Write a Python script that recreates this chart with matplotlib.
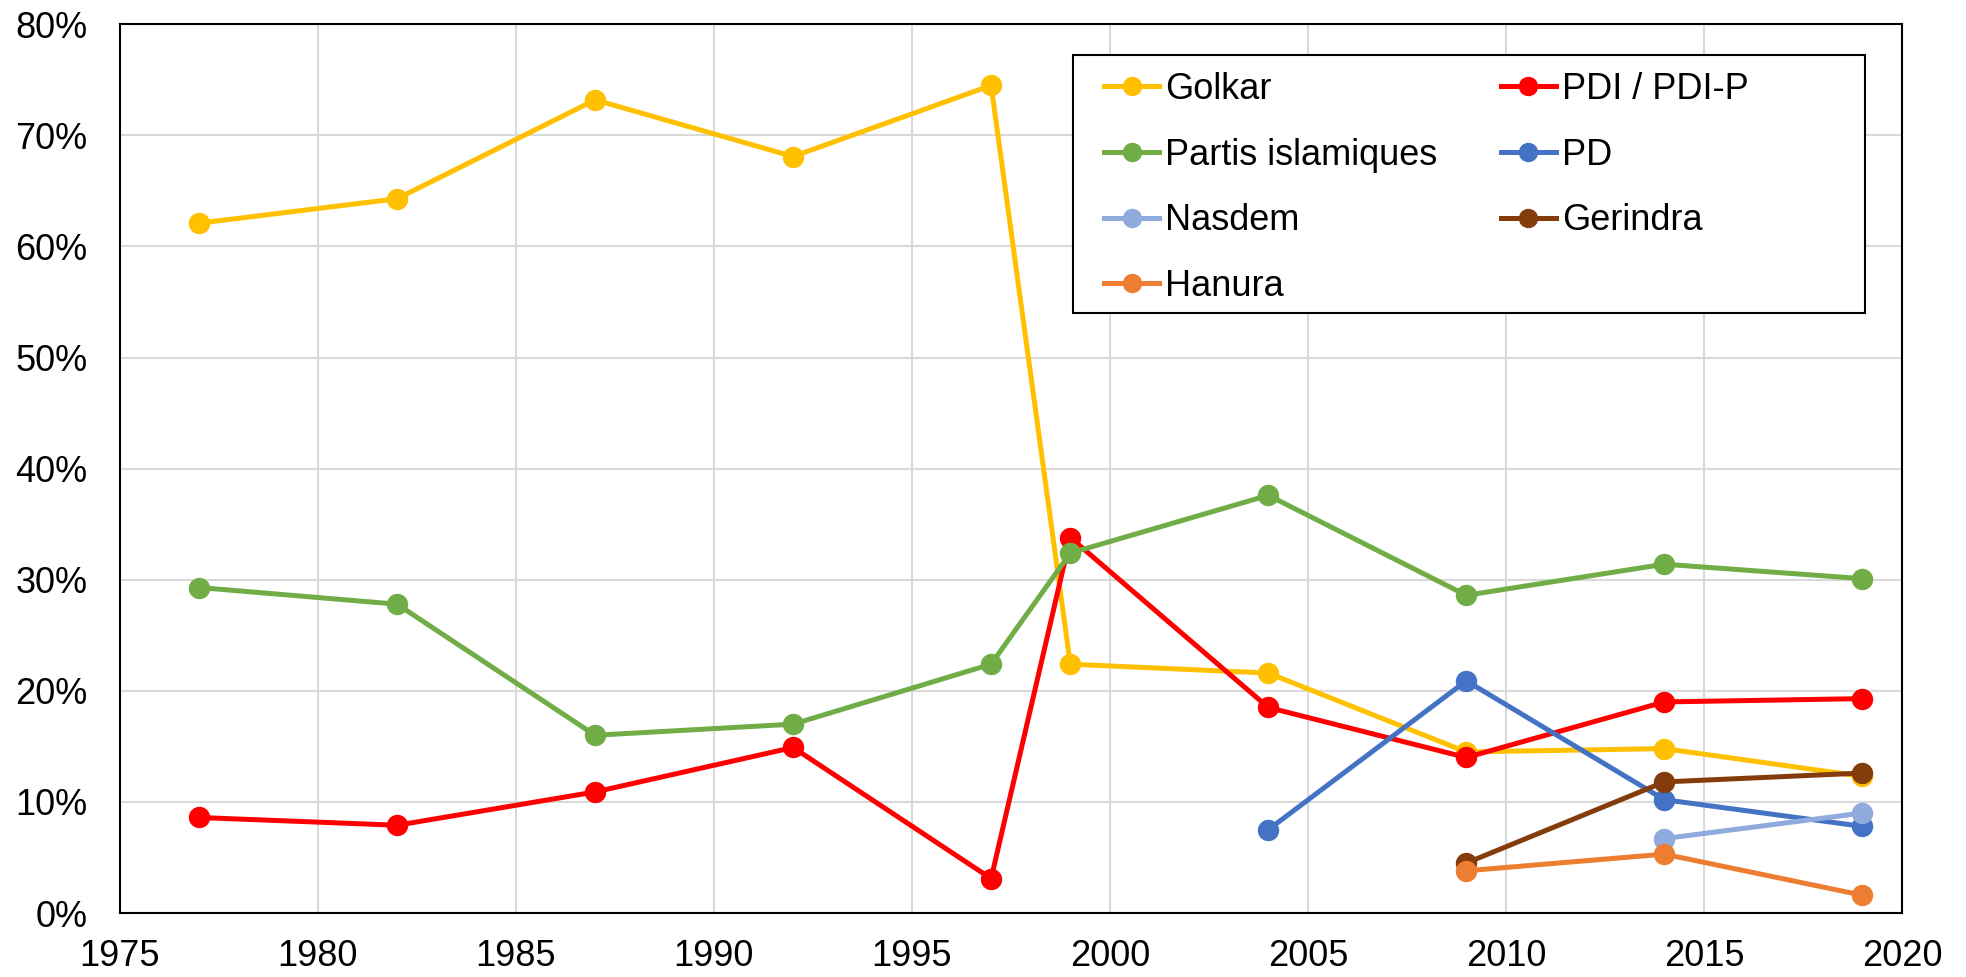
import numpy as np
import matplotlib
matplotlib.use('Agg')
import matplotlib.pyplot as plt
from matplotlib.ticker import PercentFormatter
from matplotlib.patches import Rectangle

plt.rcParams['font.family'] = ['Liberation Sans', 'DejaVu Sans']

# vote shares (%) by election year
years_old = [1977, 1982, 1987, 1992, 1997, 1999, 2004, 2009, 2014, 2019]
golkar = [62.1, 64.3, 73.2, 68.1, 74.5, 22.4, 21.6, 14.5, 14.8, 12.3]
pdi = [8.6, 7.9, 10.9, 14.9, 3.1, 33.8, 18.5, 14.0, 19.0, 19.3]
islam = [29.3, 27.8, 16.0, 17.0, 22.4, 32.4, 37.6, 28.6, 31.4, 30.1]

years_pd = [2004, 2009, 2014, 2019]
pd_ = [7.5, 20.9, 10.2, 7.8]
years_nasdem = [2014, 2019]
nasdem = [6.7, 9.0]
years_new = [2009, 2014, 2019]
gerindra = [4.5, 11.8, 12.6]
hanura = [3.8, 5.3, 1.6]

fig = plt.figure(figsize=(19.66, 9.77), dpi=100)
ax = fig.add_axes([0.0610, 0.0655, 0.9064, 0.9096])

kw = dict(lw=3.6, marker='o', ms=14.4)
h_golkar, = ax.plot(years_old, golkar, color='#FFC000', label='Golkar', **kw)
h_pdi, = ax.plot(years_old, pdi, color='#FF0000', label='PDI / PDI-P', **kw)
h_islam, = ax.plot(years_old, islam, color='#70AD47', label='Partis islamiques', **kw)
h_pd, = ax.plot(years_pd, pd_, color='#4472C4', label='PD', **kw)
h_nasdem, = ax.plot(years_nasdem, nasdem, color='#8FAADC', label='Nasdem', **kw)
h_gerindra, = ax.plot(years_new, gerindra, color='#843C0C', label='Gerindra', **kw)
h_hanura, = ax.plot(years_new, hanura, color='#ED7D31', label='Hanura', **kw)

ax.set_xlim(1975, 2020)
ax.set_ylim(0, 80)
ax.set_xticks(np.arange(1975, 2021, 5))
ax.set_yticks(np.arange(0, 81, 10))
ax.yaxis.set_major_formatter(PercentFormatter(decimals=0))
ax.grid(True, color='#D9D9D9', lw=1.5)
ax.set_axisbelow(True)
for s in ax.spines.values():
    s.set_color('black')
    s.set_linewidth(1.5)
ax.tick_params(axis='both', length=0, labelsize=26)
ax.tick_params(axis='x', pad=19)
ax.tick_params(axis='y', pad=23.5)

# legend box (drawn separately so it can be wider than its content)
fig.patches.append(Rectangle((0.5458, 0.6796), 0.4028, 0.2641,
                             transform=fig.transFigure, fill=True,
                             facecolor='white', edgecolor='black', lw=1.5,
                             zorder=3))
handles = [h_golkar, h_islam, h_nasdem, h_hanura, h_pdi, h_pd, h_gerindra]
leg = fig.legend(handles=handles, ncol=2, loc='upper left',
                 bbox_to_anchor=(0.5615, 0.9263), fontsize=26, frameon=False,
                 handlelength=1.53, handletextpad=0.17, columnspacing=1.75,
                 labelspacing=0.85, borderpad=0, borderaxespad=0,
                 markerscale=0.9)
leg.set_zorder(4)

fig.savefig('out.png', dpi=100)
